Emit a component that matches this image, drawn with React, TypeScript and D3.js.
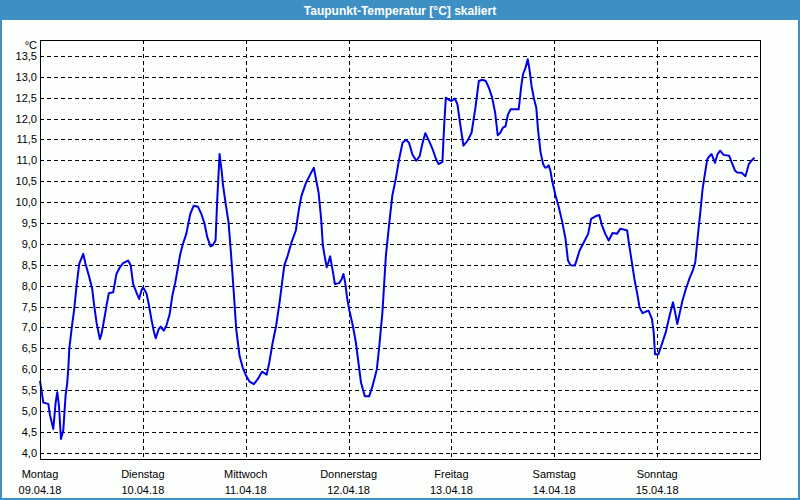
import React from "react";
import * as d3 from "d3";

const title = "Taupunkt-Temperatur [°C] skaliert";
const unit = "°C";
const dayNames = ["Montag", "Dienstag", "Mittwoch", "Donnerstag", "Freitag", "Samstag", "Sonntag"];
const dayDates = ["09.04.18", "10.04.18", "11.04.18", "12.04.18", "13.04.18", "14.04.18", "15.04.18"];
const yTicks = [4.0, 4.5, 5.0, 5.5, 6.0, 6.5, 7.0, 7.5, 8.0, 8.5, 9.0, 9.5, 10.0, 10.5, 11.0, 11.5, 12.0, 12.5, 13.0, 13.5];

// hours since Montag 09.04.18 00:00
const hours = [
  0, 0.78, 1.94, 2.33, 3.1, 3.65, 4.03, 4.42, 4.89, 5.43, 5.97, 6.36, 6.6, 6.83, 7.37, 7.99, 8.53, 9.15, 10.09, 10.63,
  11.4, 12.18, 12.65, 13.19, 13.96, 14.35, 15.13, 15.52, 16.06, 17.07, 17.84, 18.62, 19.4, 20.56, 21.18, 21.72, 22.5, 23.12, 23.66, 24.05,
  24.83, 25.37, 25.99, 26.53, 27.0, 27.7, 28.16, 28.86, 29.48, 30.26, 30.88, 31.57, 32.2, 32.74, 33.36, 34.13, 34.68, 35.07, 35.84, 36.85,
  37.63, 38.4, 39.02, 39.8, 40.34, 40.96, 41.36, 41.9, 42.44, 42.67, 43.4, 43.99, 44.6, 45.16, 45.78, 46.56, 47.3, 48.1, 48.9, 49.9,
  50.8, 51.8, 52.9, 53.5, 54.3, 55.1, 55.9, 56.5, 57.0, 57.8, 58.7, 59.7, 60.3, 61.0, 62.1, 63.1, 63.9, 64.4, 65.0, 65.6,
  66.0, 66.4, 66.9, 67.3, 67.7, 68.3, 68.8, 69.8, 70.4, 70.8, 71.2, 71.7, 72.2, 73.0, 73.7, 74.3, 74.9, 75.8, 76.8, 77.6,
  78.6, 79.1, 79.9, 80.7, 81.5, 82.2, 83.0, 83.8, 84.6, 85.4, 86.1, 86.9, 87.8, 88.6, 89.2, 89.9, 90.8, 91.6, 92.4, 93.0,
  93.9, 94.3, 94.7, 95.4, 96.0, 96.8, 97.4, 98.0, 98.8, 99.7, 100.7, 101.6, 102.4, 103.2, 104.0, 104.8, 105.5, 106.2, 106.8, 107.4,
  108.0, 108.6, 109.2, 109.8, 111.7, 112.3, 112.7, 113.3, 113.8, 114.2, 114.7, 115.2, 115.8, 116.2, 116.8, 117.4, 117.8, 118.2, 118.7, 119.1,
  119.5, 120.3, 121.0, 121.8, 122.6, 123.2, 123.8, 124.8, 125.3, 125.9, 126.9, 127.9, 128.6, 129.6, 130.5, 131.1, 131.9, 132.7, 133.6, 134.6,
  135.4, 136.4, 137.0, 137.5, 138.1, 138.7, 139.3, 139.9, 140.6, 141.4, 142.0, 142.8, 143.2, 143.5, 144.3, 145.1, 146.0, 146.9, 147.7, 148.2,
  148.7, 149.3, 149.9, 150.7, 151.5, 152.3, 152.9, 153.5, 154.0, 154.6, 155.2, 155.7, 156.3, 156.7, 157.5, 158.1, 158.7, 159.5, 160.8, 161.4,
  162.2, 162.7, 163.7, 164.6, 165.4, 166.0, 166.7,
];

const dewPoint = [
  5.72, 5.2, 5.17, 4.9, 4.57, 5.2, 5.45, 5.13, 4.33, 4.53, 5.37, 5.68, 6.0, 6.48, 6.96, 7.44, 8.0, 8.52, 8.76, 8.52,
  8.24, 7.92, 7.52, 7.12, 6.72, 6.84, 7.28, 7.52, 7.82, 7.84, 8.28, 8.44, 8.54, 8.6, 8.48, 8.04, 7.84, 7.68, 7.88, 7.96,
  7.82, 7.56, 7.2, 6.92, 6.74, 6.96, 7.02, 6.92, 7.04, 7.32, 7.76, 8.08, 8.44, 8.76, 9.0, 9.24, 9.52, 9.72, 9.91, 9.89,
  9.72, 9.48, 9.16, 8.94, 8.97, 9.08, 10.07, 11.15, 10.7, 10.43, 9.91, 9.52, 8.72, 7.92, 6.96, 6.32, 6.04, 5.84, 5.7, 5.64,
  5.76, 5.94, 5.87, 6.16, 6.64, 7.04, 7.6, 8.08, 8.48, 8.72, 9.04, 9.32, 9.76, 10.15, 10.47, 10.67, 10.82, 10.55, 10.23, 9.6,
  8.96, 8.72, 8.44, 8.56, 8.7, 8.36, 8.04, 8.06, 8.16, 8.28, 8.08, 7.68, 7.4, 7.04, 6.64, 6.16, 5.68, 5.35, 5.35, 5.6,
  6.0, 6.48, 7.36, 8.71, 9.5, 10.15, 10.55, 11.03, 11.42, 11.49, 11.42, 11.14, 10.99, 11.1, 11.39, 11.65, 11.46, 11.27, 11.03, 10.91,
  10.96, 11.82, 12.5, 12.45, 12.42, 12.48, 12.34, 11.9, 11.35, 11.46, 11.66, 12.26, 12.9, 12.93, 12.9, 12.72, 12.5, 12.14, 11.6, 11.66,
  11.78, 11.81, 12.1, 12.22, 12.22, 12.78, 13.06, 13.22, 13.42, 13.18, 12.78, 12.5, 12.26, 11.74, 11.19, 10.91, 10.83, 10.83, 10.88, 10.75,
  10.51, 10.15, 9.9, 9.55, 9.13, 8.6, 8.49, 8.48, 8.64, 8.84, 9.04, 9.24, 9.6, 9.66, 9.69, 9.45, 9.24, 9.08, 9.26, 9.24,
  9.36, 9.34, 9.32, 8.96, 8.56, 8.16, 7.84, 7.48, 7.34, 7.38, 7.4, 7.2, 6.88, 6.36, 6.36, 6.6, 6.88, 7.28, 7.6, 7.36,
  7.08, 7.36, 7.64, 7.92, 8.16, 8.36, 8.56, 9.2, 9.68, 10.31, 10.71, 11.03, 11.11, 11.15, 10.94, 11.15, 11.23, 11.13, 11.11, 10.95,
  10.75, 10.71, 10.7, 10.62, 10.91, 10.99, 11.06,
];

const W = 800;
const H = 500;

export default function App() {
  const x = d3.scaleLinear().domain([0, 168]).range([40, 760]);
  const y = d3.scaleLinear().domain([3.85, 13.88]).range([459, 40]);
  const [x0, x1] = x.range();
  const [yb, yt] = y.range();
  const points: [number, number][] = hours.map((h, i) => [h, dewPoint[i]]);
  const line = d3
    .line<[number, number]>()
    .x((d) => x(d[0]))
    .y((d) => y(d[1]));
  const fmt = (v: number) => d3.format(".1f")(v).replace(".", ",");
  const font = "'Liberation Sans', Arial, sans-serif";

  return (
    <svg
      width={W}
      height={H}
      style={{ position: "absolute", left: 0, top: 0, display: "block" }}
      fontFamily={font}
    >
      <rect x={0} y={0} width={W} height={H} fill="#fcfefc" />
      {/* window frame */}
      <rect x={0} y={0} width={W} height={20} fill="#3d8fc4" />
      <rect x={0} y={0} width={2} height={H} fill="#3d8fc4" />
      <rect x={W - 2} y={0} width={2} height={H} fill="#3d8fc4" />
      <rect x={0} y={H - 2} width={W} height={2} fill="#3d8fc4" />
      <text x={400} y={15} textAnchor="middle" fill="#ffffff" fontSize={12} fontWeight="bold">
        {title}
      </text>

      {/* grid */}
      <g stroke="#000" strokeWidth={1} strokeDasharray="4,3" shapeRendering="crispEdges">
        {yTicks.map((t) => (
          <line key={"h" + t} x1={x0} x2={x1} y1={Math.round(y(t)) + 0.5} y2={Math.round(y(t)) + 0.5} />
        ))}
        {dayNames.slice(1).map((_, i) => {
          const xx = Math.round(x((i + 1) * 24)) + 0.5;
          return <line key={"v" + i} x1={xx} x2={xx} y1={yt} y2={yb} />;
        })}
      </g>

      {/* series */}
      <path d={line(points) || ""} fill="none" stroke="#0000e8" strokeWidth={2} strokeLinejoin="round" />

      {/* frame */}
      <rect
        x={x0 + 0.5}
        y={yt + 0.5}
        width={x1 - x0}
        height={yb - yt}
        fill="none"
        stroke="#000"
        strokeWidth={1}
        shapeRendering="crispEdges"
      />

      {/* y labels */}
      <g fontSize={11} fill="#000" textAnchor="end">
        <text x={37} y={49}>{unit}</text>
        {yTicks.map((t) => (
          <text key={"yl" + t} x={37} y={y(t) + 4}>
            {fmt(t)}
          </text>
        ))}
      </g>

      {/* x labels */}
      <g fontSize={11} fill="#000" textAnchor="middle">
        {dayNames.map((d, i) => (
          <g key={d}>
            <text x={x(i * 24)} y={478}>{d}</text>
            <text x={x(i * 24)} y={494}>{dayDates[i]}</text>
          </g>
        ))}
      </g>
    </svg>
  );
}
